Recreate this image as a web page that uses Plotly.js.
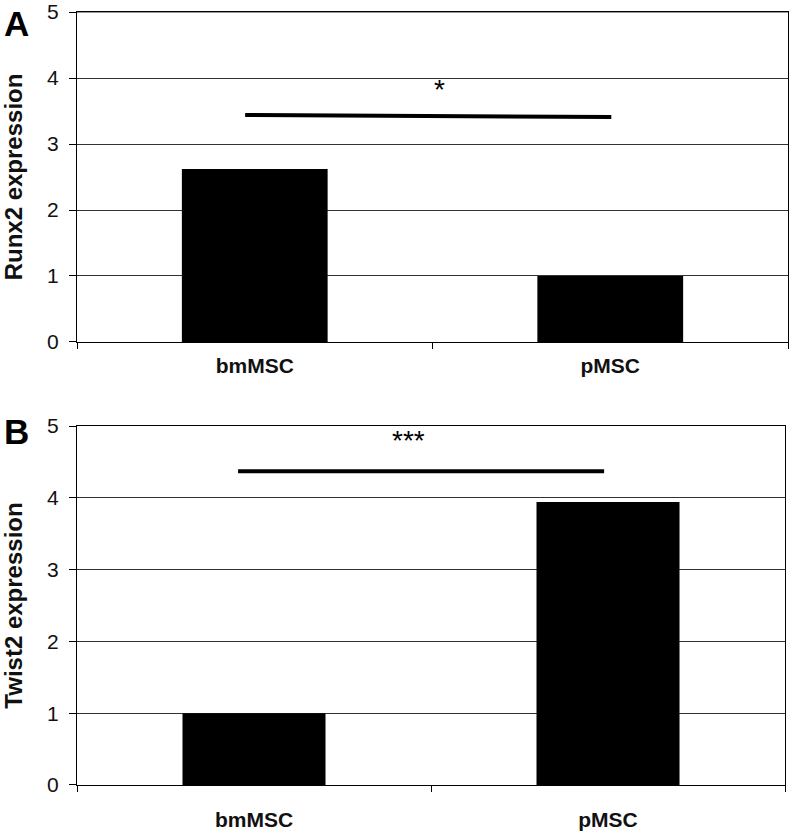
<!DOCTYPE html>
<html>
<head>
<meta charset="utf-8">
<script src="https://cdn.plot.ly/plotly-3.0.1.min.js"></script>
<style>html,body{margin:0;padding:0;background:#fff;}#chart{width:792px;height:835px;}</style>
</head>
<body>
<div id="chart"></div>
<script>
// ---- data ----
const categories = ["bmMSC", "pMSC"];
const runx2Values = [2.62, 1.0];
const twist2Values = [1.0, 3.94];
const yTickValues = [0, 1, 2, 3, 4, 5];
const panelLabels = ["A", "B"];
const yTitles = ["Runx2 expression", "Twist2 expression"];
const sigLabels = ["*", "***"];
// significance brackets: [start, end] in category index units, levels in data units
const bracketStartA = [-0.027, 3.44];
const bracketEndA = [1.003, 3.41];
const bracketStartB = [-0.045, 4.37];
const bracketEndB = [0.989, 4.37];
const sigPosA = [0.519, 3.82];
const sigPosB = [0.435, 4.80];

const FONT = "Liberation Sans, Arial, sans-serif";

const traces = [
  {type: "bar", x: categories, y: runx2Values, xaxis: "x", yaxis: "y",
   marker: {color: "#000000", line: {width: 0}}, width: 0.41, hoverinfo: "skip"},
  {type: "bar", x: categories, y: twist2Values, xaxis: "x2", yaxis: "y2",
   marker: {color: "#000000", line: {width: 0}}, width: 0.404, hoverinfo: "skip"}
];

function xAxis(domain, anchor, standoff) {
  return {
    domain: domain, anchor: anchor, type: "category",
    range: [-0.5, 1.5],
    showline: true, linecolor: "#000", linewidth: 1, mirror: true,
    ticks: "outside", tickson: "boundaries", ticklen: 6, tickcolor: "#000", tickwidth: 1,
    showgrid: false, zeroline: false,
    ticklabelstandoff: standoff,
    tickfont: {family: FONT, size: 21, color: "#111", weight: "bold"}
  };
}
function yAxis(domain, anchor, title) {
  return {
    domain: domain, anchor: anchor, range: [0, 5],
    tickvals: yTickValues, ticktext: yTickValues.map(String),
    showline: true, linecolor: "#000", linewidth: 1, mirror: true,
    ticks: "outside", ticklen: 7, tickcolor: "#000", tickwidth: 1,
    showgrid: true, gridcolor: "#333", gridwidth: 1, zeroline: false,
    ticklabelstandoff: 6, ticklabeloverflow: "allow",
    tickfont: {family: FONT, size: 21, color: "#111"},
    title: {text: title, standoff: 17, font: {family: FONT, size: 24, color: "#111", weight: "bold"}}
  };
}

const layout = {
  width: 792, height: 835,
  margin: {l: 77, r: 4, t: 12, b: 50, autoexpand: false},
  paper_bgcolor: "#fff", plot_bgcolor: "#fff",
  showlegend: false,
  bargap: 0.59,
  xaxis: xAxis([0, 1], "y", 5),
  yaxis: yAxis([0.5731, 1], "x", yTitles[0]),
  xaxis2: xAxis([0, 0.9958], "y2", 16),
  yaxis2: yAxis([0, 0.4644], "x2", yTitles[1]),
  shapes: [
    {type: "line", xref: "x", yref: "y", x0: bracketStartA[0], y0: bracketStartA[1],
     x1: bracketEndA[0], y1: bracketEndA[1], line: {color: "#000", width: 4}},
    {type: "line", xref: "x2", yref: "y2", x0: bracketStartB[0], y0: bracketStartB[1],
     x1: bracketEndB[0], y1: bracketEndB[1], line: {color: "#000", width: 4}},
    {type: "line", xref: "x domain", yref: "y", x0: 0, x1: 1, y0: 5, y1: 5,
     line: {color: "#333", width: 1}}
  ],
  annotations: [
    {xref: "x", yref: "y", x: sigPosA[0], y: sigPosA[1], text: sigLabels[0], showarrow: false,
     font: {family: FONT, size: 28, color: "#000"}},
    {xref: "x2", yref: "y2", x: sigPosB[0], y: sigPosB[1], text: sigLabels[1], showarrow: false,
     font: {family: FONT, size: 28, color: "#000"}},
    {xref: "paper", yref: "y", x: -0.105, y: 4.83, xanchor: "left", yanchor: "middle",
     text: "<b>" + panelLabels[0] + "</b>", showarrow: false,
     font: {family: FONT, size: 35, color: "#000"}},
    {xref: "paper", yref: "y2", x: -0.105, y: 4.93, xanchor: "left", yanchor: "middle",
     text: "<b>" + panelLabels[1] + "</b>", showarrow: false,
     font: {family: FONT, size: 35, color: "#000"}}
  ]
};

Plotly.newPlot("chart", traces, layout, {staticPlot: true, displayModeBar: false});
</script>
</body>
</html>
